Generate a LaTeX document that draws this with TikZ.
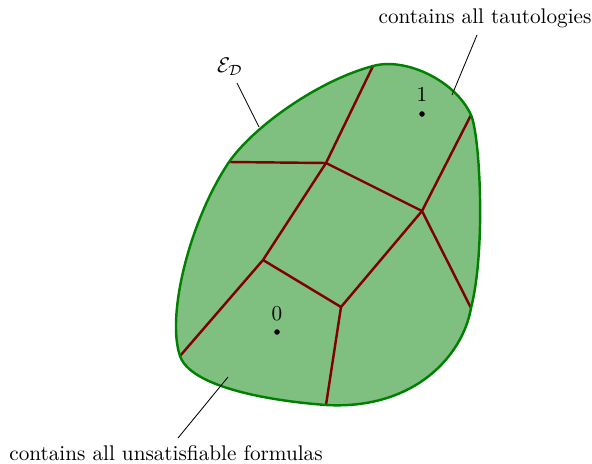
\documentclass[tikz,border=0pt]{standalone}
\begin{document}
\begin{tikzpicture}[x=0.4717pt,y=-0.4717pt,
  region/.style={fill=green!50!black,fill opacity=0.5},
  rim/.style={draw=green!50!black,line width=1.15pt,line join=round},
  cut/.style={draw=red!50!black,line width=1.15pt},
  pin/.style={draw=black,line width=0.4pt},
  pt/.style={circle,fill=black,inner sep=0pt,minimum size=2.6pt},
  lbl/.style={inner sep=0pt}]
\useasboundingbox (0,0) rectangle (592,463);
% vertices of the partition
\coordinate (eL) at (229,162);
\coordinate (eT) at (373,66);
\coordinate (eR1) at (471,115);
\coordinate (eR2) at (471,308);
\coordinate (eB) at (326,405);
\coordinate (eBL) at (180,356);
\coordinate (A) at (326,163);
\coordinate (B) at (422,211);
\coordinate (C) at (263,260);
\coordinate (D) at (341,307);
\def\blob{(eBL) .. controls (166,315) and (190,220) .. (eL)
  .. controls (255,125) and (320,80) .. (eT)
  .. controls (405,57) and (455,80) .. (eR1)
  .. controls (480,135) and (486,250) .. (eR2)
  .. controls (463,355) and (415,410) .. (eB)
  .. controls (260,400) and (190,385) .. (eBL) -- cycle}
\path[region] \blob;
\draw[cut] (eL) -- (A);
\draw[cut] (eT) -- (A);
\draw[cut] (A) -- (B);
\draw[cut] (eR1) -- (B);
\draw[cut] (B) -- (eR2);
\draw[cut] (A) -- (C);
\draw[cut] (C) -- (D);
\draw[cut] (D) -- (B);
\draw[cut] (C) -- (eBL);
\draw[cut] (D) -- (eB);
\path[rim] \blob;
% points
\node[pt] (p1) at (422,114) {};
\node[lbl,anchor=base] (l1) at (422,101) {1};
\node[pt] (p0) at (277,332) {};
\node[lbl,anchor=base] (l0) at (277,320) {0};
% labels
\node[lbl] (ed) at (230,67) {$\mathcal{E}_{\mathcal{D}}$};
\coordinate (edE) at (259,127);
\draw[pin] (237,83) -- (edE);
\node[lbl,anchor=base] (taut) at (485,23) {contains all tautologies};
\coordinate (tautE) at (452,95);
\draw[pin] (477,35) -- (tautE);
\node[lbl,anchor=base] (unsat) at (166,460) {contains all unsatisfiable formulas};
\coordinate (unsatE) at (228,377);
\draw[pin] (178,438) -- (unsatE);
\end{tikzpicture}
\end{document}
